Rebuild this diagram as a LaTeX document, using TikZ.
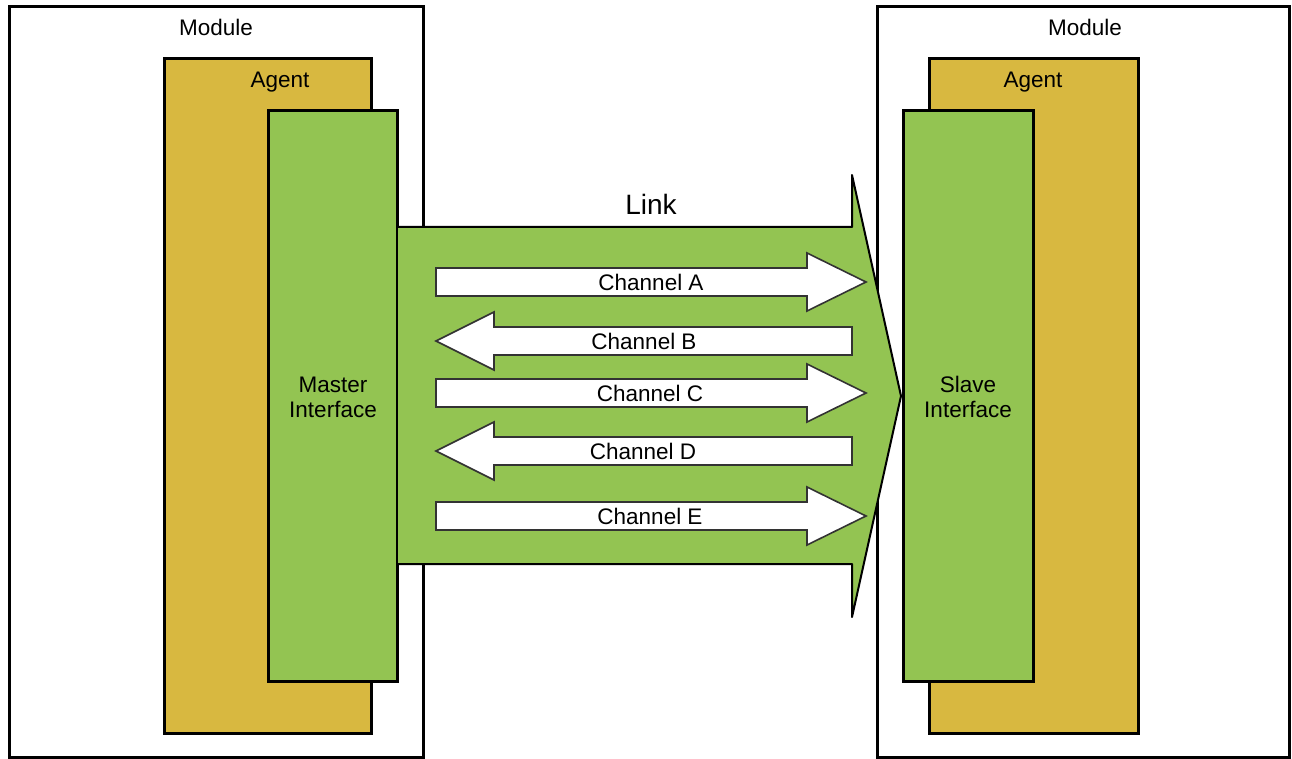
\documentclass[tikz,border=0pt]{standalone}
\usepackage{fontspec}
\setmainfont{Liberation Sans}
\definecolor{agentc}{HTML}{D8B840}
\definecolor{ifc}{HTML}{93C452}
\definecolor{chline}{HTML}{333333}
\tikzset{
  box/.style={draw=black, line width=3pt, rectangle, inner sep=0pt, outer sep=0pt, anchor=north west},
  lbl/.style={font=\fontsize{22.5}{25}\selectfont, inner sep=0pt, text=black},
  linklbl/.style={font=\fontsize{28}{30}\selectfont, inner sep=0pt, text=black},
  chan/.style={draw=chline, fill=white, line width=1.6pt, line join=miter},
  linkfill/.style={fill=ifc},
  linkedge/.style={draw=black, line width=2pt, line join=round},
}
\begin{document}
\begin{tikzpicture}[x=1pt,y=-1pt]
\useasboundingbox (0,0) rectangle (1292,759);
% left side
\node[box, fill=white,  minimum width=414pt, minimum height=750pt] (modL) at (9,7) {};
\node[box, fill=agentc, minimum width=207pt, minimum height=674pt] (agL) at (164,59) {};
\node[box, fill=ifc,    minimum width=129pt, minimum height=570pt] (mif) at (268,111) {};
% right side
\node[box, fill=white,  minimum width=412pt, minimum height=750pt] (modR) at (877,7) {};
\node[box, fill=agentc, minimum width=209pt, minimum height=674pt] (agR) at (929,59) {};
% link arrow
\path[linkfill] (398,227) -- (852,227) -- (852,175) -- (901,396) -- (852,617) -- (852,564) -- (398,564) -- cycle;
\draw[linkedge] (398,227) -- (852,227) -- (852,175) -- (901,396) -- (852,617) -- (852,564) -- (398,564);
\node[box, fill=ifc,    minimum width=130pt, minimum height=570pt] (sif) at (903,111) {};
% channels to the right
\foreach \c/\n/\t/\x in {282/A/Channel A/651, 393/C/Channel C/650, 516/E/Channel E/650}{
  \draw[chan] (436,\c-14) -- (807,\c-14) -- (807,\c-29) -- (866,\c) -- (807,\c+29) -- (807,\c+14) -- (436,\c+14) -- cycle;
  \node[lbl, anchor=base] (ch\n) at (\x,\c+8) {\t};
}
% channels to the left
\foreach \c/\n/\t/\x in {341/B/Channel B/644, 451/D/Channel D/643}{
  \draw[chan] (852,\c-14) -- (494,\c-14) -- (494,\c-29) -- (436,\c) -- (494,\c+29) -- (494,\c+14) -- (852,\c+14) -- cycle;
  \node[lbl, anchor=base] (ch\n) at (\x,\c+8) {\t};
}
% labels
\node[lbl, anchor=base] (modLt) at (216,36) {Module};
\node[lbl, anchor=base] (modRt) at (1085,36) {Module};
\node[lbl, anchor=base] (agLt) at (280,88) {Agent};
\node[lbl, anchor=base] (agRt) at (1033,88) {Agent};
\node[linklbl, anchor=base] (linkt) at (651,215) {Link};
\node[lbl, align=center, anchor=center] (mift) at (333,397) {Master\\Interface};
\node[lbl, align=center, anchor=center] (sift) at (968,397) {Slave\\Interface};
\end{tikzpicture}
\end{document}
